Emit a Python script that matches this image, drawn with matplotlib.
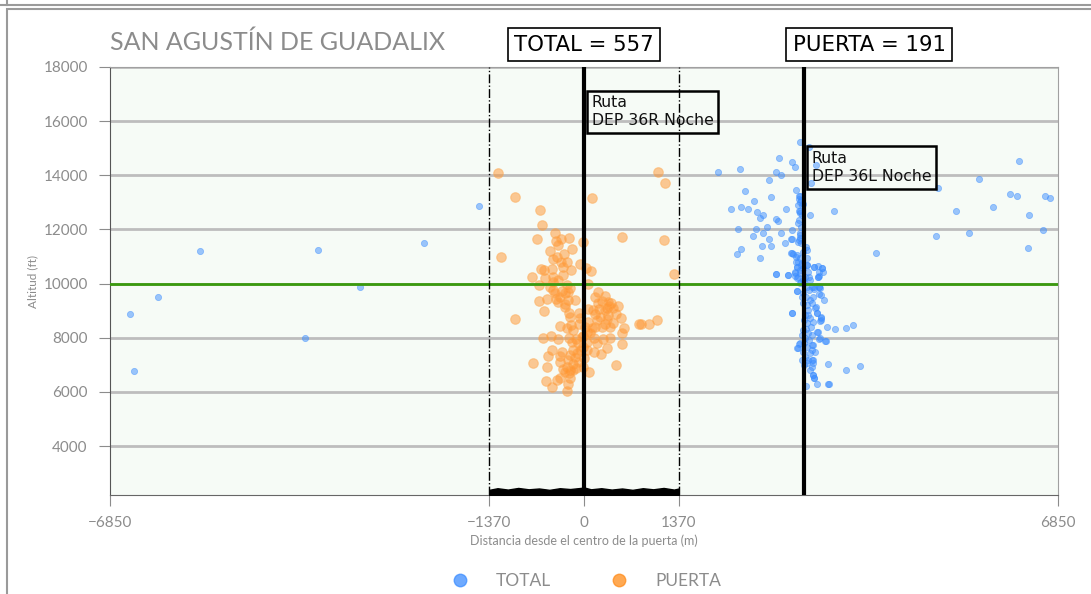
import matplotlib
matplotlib.use("Agg")
from matplotlib import pyplot as plt
from matplotlib.patches import Rectangle
from matplotlib.lines import Line2D

# distances (m) from gate centre and altitudes (ft)
puerta_x = [-1250, 1064, 1170, -1000, 120, -640, -600, -415, -675, -212, 545, 1160, -10,
            -400, -370, -330, -490, -170, -290, -385, -445, -1195, -250, -58, -308, -615,
            -580, -458, 30, 105, 1305, -750, -570, -445, -310, -655, 60, -455, -320, -200,
            200, 300, 165, -535, -410, -650, -580, -990, 800, 830, 935, 1060,
            -270, -236, -236, -135, -279, 260, 385, 496, 366, -212, -68, 63, 164, 217, 328,
            342, 530, 458, -342, -193, -68, 63, 159, 299, 419, 583, 544, -597, -477, -371,
            -217, -111, -10, 145, 270, 376, -467, -323, -154, -10, 183, 328, 544, -515, -347,
            -202, -106, 145, 250, -732, -530, -347, -251, -154, 0, 458, -304, -202, -120,
            -222, 72, -549, -395, -347, -202, -226, -467, -251,
            -58, 14, 38, -34, -82, 38, -154, -251, 87, -178, -58, -130, -226, -154, -275,
            -82, 38, 111, 183, 231, 303, 328, 424, 352, -347, -419, -491, -202, -275, -371,
            -443, -371, -251, -328, -193, 135, 207, 255, 376, -10]
puerta_y = [14100, 14130, 13730, 13210, 13150, 12730, 12160, 11880, 11640, 11690, 11730, 11600, 11550,
            11580, 11420, 11630, 11200, 11270, 11080, 11000, 10900, 10970, 10790, 10740, 10600, 10550,
            10500, 10520, 10590, 10470, 10370, 10230, 10220, 10230, 10320, 9930, 9970, 9760, 9735, 9850,
            9680, 9550, 9490, 9440, 9420, 9350, 8990, 8700, 8520, 8520, 8520, 8640,
            9640, 9700, 9406, 9406, 9259, 9370, 9283, 9173, 9160, 8902, 8926, 9050, 8877, 9050, 9111,
            8840, 8742, 8877, 8434, 8471, 8508, 8594, 8409, 8508, 8557, 8372, 8188, 8003, 8077, 7954,
            7978, 7941, 8065, 7978, 7941, 8003, 7548, 7486, 7548, 7671, 7794, 7609, 7757, 7326, 7326,
            7363, 7425, 7462, 7388, 7055, 6932, 7104, 6932, 7018, 7240, 7006, 6834, 6809, 6895,
            6686, 6723, 6403, 6440, 6526, 6501, 6280, 6193, 6046,
            8717, 8409, 8225, 8040, 7794, 7856, 8286, 8348, 8163, 7856, 7548, 7301, 7178, 6809, 6748,
            7117, 7548, 8348, 8656, 8779, 9025, 8692, 9086, 9332, 9493, 9640, 9886, 8779, 9148, 9332,
            10071, 10133, 9948, 10810, 10502, 9025, 9271, 8409, 8409, 6932]

total_x = [-6560, -6507, -6156, -5549, -4027, -3844, -3232, -2308, -1517,
           3121, 3251, 2822, 3010, 3049, 1941, 2249, 2769, 2842, 2673, 3285, 3357, 2326, 3068,
           2697, 2456, 3121, 3107, 3121, 2124, 2268, 2365, 2505, 2582, 2543, 2919, 3145, 3169,
           3112, 3121, 3270, 3617, 2779, 2803, 2639, 2230, 2490, 2582, 2437, 2673, 2847, 3010,
           2991, 2899, 3121, 3121, 3097, 2268, 2216, 2567, 2697, 2543, 3208, 3160, 2986, 3025,
           3063, 3097, 3073, 3049, 3131, 3169, 3218, 3323, 3434, 3400, 3381, 3251, 2769, 2952,
           3073, 3131, 4215, 3083, 3169, 3290, 3328, 3415, 3400, 3208, 3266, 3290, 3218, 3473,
           3010, 3338, 3362, 3242, 3193, 3266, 3314, 3218, 3424, 3410, 3506, 3622, 3786, 3882,
           3169, 3242, 3193, 3290, 3362, 3410, 3492, 3121, 3097, 3218, 3160, 3266, 3290, 3145,
           3218, 3290, 3314, 3531, 3781, 3993, 3304, 3328, 3362, 3535,
           3169, 3242, 3179, 3275, 3208, 3145, 3256, 3179, 3290, 3193, 3242, 3179, 3266, 3218,
           3145, 3256, 3314, 3179, 3121, 3193, 3242,
           5082, 5120, 5380, 5563, 5713, 5915, 6156, 6252, 6286, 6435, 6421, 6638, 6662, 6734,
           3111, 3131, 3097, 3121, 3145, 3107, 3087, 3131, 3121, 3111, 3135, 3001, 3073, 3121,
           3063, 3145, 3073, 3121, 3049, 3097, 3169, 3121, 3217, 3227, 3227, 3323, 3386, 3434,
           3265, 3386, 3400, 3323, 3001,
           2774, 2952, 3049, 3400, 3458, 3083, 3400, 3420, 3005, 3352, 3372, 3420, 3420, 3386,
           3482, 3400, 3083, 3111, 3314, 3338, 3290, 3314, 3304, 3323, 3208, 3530]
total_y = [8887, 6758, 9504, 11203, 7989, 11251, 9884, 11487, 12877,
           15242, 15058, 14627, 14479, 14294, 14134, 14245, 14134, 14011, 13814, 13703, 14380, 13433, 13445,
           13211, 13063, 13248, 13112, 13026, 12768, 12817, 12768, 12645, 12522, 12436, 12768, 12891, 12940,
           12682, 12596, 12534, 12682, 12399, 12325, 12103, 12005, 12005, 11869, 11771, 11635, 11869, 11980,
           11648, 11500, 11857, 11672, 11549, 11266, 11106, 11402, 11402, 10934, 11340, 11180, 11118, 11094,
           10995, 10811, 10601, 10441, 10687, 10564, 10687, 10601, 10564, 10441, 10257, 10257, 10355, 10318,
           10195, 10072, 11118, 9727, 9641, 9887, 9789, 9850, 9604, 9518, 9395, 9272, 9210, 9407,
           8903, 9087, 8927, 9026, 8841, 8718, 8595, 8533, 8718, 8620, 8410, 8312, 8373, 8472,
           8287, 8164, 7980, 8102, 8225, 8004, 7893, 7795, 7610, 7672, 7487, 7425, 7733, 7179,
           7056, 6933, 7179, 7031, 6810, 6945, 6625, 6502, 6281, 6281,
           9272, 8841, 8656, 8410, 8312, 8102, 7918, 7795, 7548, 7302, 7179, 6994, 6810, 9887,
           9518, 9764, 9518, 10072, 10380, 10257, 10441,
           11771, 13519, 12682, 11882, 13863, 12817, 13297, 13248, 14528, 12534, 11315, 11980, 13248, 13149,
           13235, 13087, 12903, 12681, 12533, 12349, 12250, 12102, 11795, 11610, 11487, 11118, 11056, 10933,
           10810, 10748, 10625, 10502, 10379, 10256, 10133, 10010, 11241, 10933, 10687, 10600, 10650, 10564,
           10133, 10256, 9887, 9887, 11635,
           10353, 10316, 10279, 10279, 10439, 9738, 9861, 9578, 8901, 9147, 8925, 8778, 8655, 8224,
           7891, 7940, 7608, 7768, 7731, 7485, 7177, 7054, 6623, 6525, 6217, 6279]

total_count = 557
puerta_count = 191
gate_half = 1370
runway_x = [0, 3180]
runway_labels = ["Ruta\nDEP 36R Noche", "Ruta\nDEP 36L Noche"]
runway_label_y = [16950, 14890]
level_ft = 10000
# ground track band along the gate
band_x = [-1370, -1250, -1100, -950, -800, -650, -500, -350, -200, -50, 0, 100, 250, 400,
          550, 700, 850, 1000, 1150, 1300, 1370]
band_top = [2380, 2440, 2390, 2450, 2400, 2430, 2380, 2440, 2410, 2450, 2470, 2400, 2440,
            2390, 2430, 2380, 2440, 2400, 2450, 2390, 2430]

grey = "#8c8c8c"
font = "Lato"
blue = "#3d8eff"
orange = "#ff8c1a"

fig = plt.figure(figsize=(10.91, 5.94), dpi=100)
fig.add_artist(Rectangle((7 / 1091, -0.1), 1.1, (594 - 9) / 594 + 0.1, transform=fig.transFigure,
                         fill=False, edgecolor="#9a9a9a", linewidth=1.5))
fig.add_artist(Line2D([0, 1], [1 - 5 / 594, 1 - 5 / 594], transform=fig.transFigure,
                      color="#9a9a9a", linewidth=1.5))
fig.add_artist(Line2D([7 / 1091, 7 / 1091], [1 - 5 / 594, 1], transform=fig.transFigure,
                      color="#9a9a9a", linewidth=1.5))

ax = fig.add_axes([110 / 1091, 99 / 594, 948 / 1091, 428 / 594])
ax.set_facecolor("#f6fbf6")
ax.set_xlim(-6850, 6850)
ax.set_ylim(2190, 18000)
ax.set_yticks([4000, 6000, 8000, 10000, 12000, 14000, 16000, 18000])
ax.set_xticks([-6850, -gate_half, 0, gate_half, 6850])
ax.set_xticklabels(["\u22126850", "\u22121370", "0", "1370", "6850"])
ax.grid(axis="y", color="#bdbdbd", linewidth=2, zorder=0)
ax.set_axisbelow(True)

for s in ax.spines.values():
    s.set_color("#a0a0a0")
ax.spines["left"].set_color("#555555")
ax.spines["bottom"].set_color("#666666")
ax.tick_params(axis="both", colors=grey, length=8, labelsize=11, pad=8)
ax.tick_params(axis="x", pad=7)
for lab in ax.get_xticklabels() + ax.get_yticklabels():
    lab.set_family(font)

ax.scatter(total_x, total_y, s=20, color=blue, alpha=0.5, edgecolors=blue,
           linewidths=0.6, zorder=3)
ax.scatter(puerta_x, puerta_y, s=48, color="#ff9530", alpha=0.5, edgecolors="#ffa850",
           linewidths=0.8, zorder=3)

ax.axhline(level_ft, color="#3a9a0e", linewidth=2, zorder=4)
for gx in (-gate_half, gate_half):
    ax.axvline(gx, color="black", linestyle="-.", linewidth=1, zorder=4)
for rx in runway_x:
    ax.axvline(rx, color="black", linewidth=3, zorder=5)
ax.fill_between(band_x, 2190, band_top, color="black", zorder=5)

for rx, ry, txt in zip(runway_x, runway_label_y, runway_labels):
    ax.text(rx + 110, ry, txt, ha="left", va="top", fontsize=11.3, color="#111111", zorder=6,
            family="DejaVu Sans", linespacing=1.25,
            bbox=dict(boxstyle="square,pad=0.3", facecolor="none", edgecolor="black", linewidth=1.8))

top = ax.get_xaxis_transform()
ax.text(0, 1.052, f"TOTAL = {total_count}", transform=top, ha="center", va="center",
        fontsize=15.3, family="DejaVu Sans",
        bbox=dict(boxstyle="square,pad=0.3", facecolor="white", edgecolor="black", linewidth=1.2))
ax.text(4120, 1.052, f"PUERTA = {puerta_count}", transform=top, ha="center", va="center",
        fontsize=15.3, family="DejaVu Sans",
        bbox=dict(boxstyle="square,pad=0.3", facecolor="white", edgecolor="black", linewidth=1.2))

ax.text(0, 1.058, "SAN AGUSTÍN DE GUADALIX", transform=ax.transAxes, ha="left", va="center",
        fontsize=18, color=grey, family=font)
ax.set_ylabel("Altitud (ft)", fontsize=8.5, color=grey, family=font, labelpad=4)
ax.set_xlabel("Distancia desde el centro de la puerta (m)", fontsize=9, color=grey, family=font,
              labelpad=3)

handles = [Line2D([], [], linestyle="none", marker="o", markersize=9, markerfacecolor=c,
                  markeredgecolor=c, alpha=0.75) for c in (blue, orange)]
leg = ax.legend(handles, ["TOTAL", "PUERTA"], loc="upper center", bbox_to_anchor=(0.5, -0.145),
                ncol=2, frameon=False, columnspacing=3.2, handletextpad=1.3, handlelength=1.5,
                prop={"family": font, "size": 12.5})
for t in leg.get_texts():
    t.set_color(grey)

fig.savefig("out.png", dpi=100)
